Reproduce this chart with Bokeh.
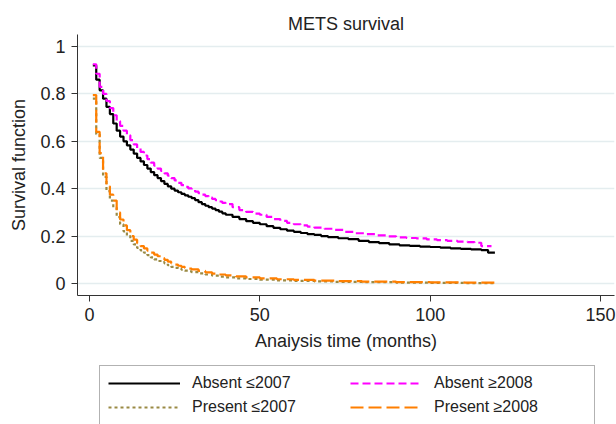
from bokeh.plotting import figure
from bokeh.models import Range1d, FixedTicker, Legend, LegendItem
from bokeh.layouts import column
from bokeh.embed import file_html
from bokeh.resources import INLINE

# ---- data ----
t_abs_le2007 = [1, 2, 3, 4, 5, 6, 7, 8, 9, 10, 11, 12, 13, 14, 15, 16, 17, 18, 19, 20,
                21, 22, 23, 24, 25, 26, 27, 28, 29, 30, 31, 32, 33, 34, 35, 36, 37, 38,
                39, 40, 42, 44, 46, 48, 50, 52, 54, 56, 58, 60, 62, 64, 66, 68, 70, 73,
                76, 79, 82, 85, 88, 91, 94, 97, 100, 103, 106, 109, 112, 115, 117, 119]
s_abs_le2007 = [0.92, 0.86, 0.815, 0.78, 0.745, 0.715, 0.675, 0.645, 0.62, 0.60, 0.583,
                0.565, 0.548, 0.53, 0.515, 0.50, 0.485, 0.47, 0.457, 0.445, 0.432, 0.42,
                0.41, 0.40, 0.392, 0.385, 0.378, 0.372, 0.366, 0.36, 0.352, 0.343, 0.335,
                0.328, 0.322, 0.316, 0.31, 0.303, 0.296, 0.29, 0.281, 0.272, 0.263, 0.256,
                0.25, 0.242, 0.235, 0.229, 0.223, 0.218, 0.213, 0.208, 0.205, 0.20, 0.196,
                0.191, 0.187, 0.18, 0.175, 0.17, 0.165, 0.161, 0.159, 0.156, 0.154, 0.151,
                0.148, 0.146, 0.144, 0.141, 0.13, 0.13]

t_abs_ge2008 = [1, 2, 3, 4, 5, 6, 7, 8, 9, 10, 11, 12, 13, 14, 15, 16, 17, 18, 19, 20,
                21, 22, 23, 24, 25, 26, 27, 28, 29, 30, 31, 32, 33, 34, 35, 36, 37, 38,
                39, 40, 42, 44, 46, 48, 50, 52, 54, 56, 58, 60, 62, 64, 66, 69, 72, 75,
                78, 81, 84, 87, 90, 93, 96, 99, 102, 105, 108, 111, 113, 115, 118]
s_abs_ge2008 = [0.925, 0.885, 0.83, 0.80, 0.77, 0.74, 0.71, 0.685, 0.665, 0.645, 0.625,
                0.605, 0.587, 0.57, 0.555, 0.54, 0.525, 0.51, 0.497, 0.485, 0.475, 0.465,
                0.455, 0.445, 0.435, 0.425, 0.415, 0.408, 0.401, 0.395, 0.388, 0.381,
                0.375, 0.369, 0.363, 0.357, 0.352, 0.346, 0.34, 0.335, 0.322, 0.31, 0.302,
                0.295, 0.29, 0.281, 0.272, 0.264, 0.256, 0.25, 0.245, 0.24, 0.236, 0.231,
                0.226, 0.218, 0.212, 0.208, 0.203, 0.199, 0.195, 0.192, 0.19, 0.186,
                0.183, 0.18, 0.177, 0.175, 0.172, 0.158, 0.158]

t_pre_le2007 = [1, 2, 3, 4, 5, 6, 7, 8, 9, 10, 11, 12, 13, 14, 15, 16, 17, 18, 19, 20,
                21, 22, 23, 24, 25, 26, 27, 28, 29, 30, 32, 34, 36, 38, 40, 43, 46, 50,
                55, 60, 66, 72, 80, 90, 100, 110, 119]
s_pre_le2007 = [0.78, 0.63, 0.53, 0.45, 0.39, 0.35, 0.32, 0.28, 0.25, 0.22, 0.20, 0.18,
                0.165, 0.15, 0.14, 0.13, 0.12, 0.11, 0.102, 0.095, 0.09, 0.085, 0.077,
                0.07, 0.066, 0.062, 0.058, 0.054, 0.051, 0.048, 0.043, 0.038, 0.033,
                0.029, 0.026, 0.022, 0.019, 0.016, 0.013, 0.011, 0.009, 0.007, 0.006,
                0.004, 0.003, 0.002, 0.002]

t_pre_ge2008 = [1, 2, 3, 4, 5, 6, 7, 8, 9, 10, 11, 12, 13, 14, 15, 16, 17, 18, 19, 20,
                21, 22, 23, 24, 25, 26, 27, 28, 29, 30, 32, 34, 36, 38, 40, 43, 46, 50,
                55, 60, 66, 72, 80, 90, 100, 110, 119]
s_pre_ge2008 = [0.795, 0.64, 0.55, 0.465, 0.41, 0.375, 0.35, 0.30, 0.27, 0.245, 0.225,
                0.20, 0.185, 0.17, 0.158, 0.148, 0.139, 0.13, 0.122, 0.115, 0.107, 0.10,
                0.092, 0.085, 0.08, 0.075, 0.07, 0.066, 0.063, 0.06, 0.053, 0.047, 0.042,
                0.038, 0.034, 0.03, 0.026, 0.022, 0.018, 0.015, 0.012, 0.01, 0.008,
                0.006, 0.005, 0.004, 0.004]

x_ticks = [0, 50, 100, 150]
y_ticks = [0, 0.2, 0.4, 0.6, 0.8, 1]
y_tick_labels = ["0", "0.2", "0.4", "0.6", "0.8", "1"]

title_text = "METS survival"
x_label = "Anaiysis time (months)"
y_label = "Survival function"
labels = ["Absent \u22642007", "Absent \u22652008", "Present \u22642007", "Present \u22652008"]

FONT = "Liberation Sans"
styles = [dict(line_color="black", line_width=2.2),
          dict(line_color="#FF00FF", line_width=2.2, line_dash="8 4"),
          dict(line_color="#9A8A44", line_width=2.2, line_dash="3 3"),
          dict(line_color="#FF7F00", line_width=2.2, line_dash="13 5")]
series = [(t_abs_le2007, s_abs_le2007), (t_abs_ge2008, s_abs_ge2008),
          (t_pre_le2007, s_pre_le2007), (t_pre_ge2008, s_pre_ge2008)]

# ---- main plot ----
p = figure(width=616, height=365, output_backend="svg", toolbar_location=None,
           x_range=Range1d(-3.5, 154.1), y_range=Range1d(-0.0506, 1.0506),
           min_border_left=77, min_border_right=2, min_border_top=34,
           min_border_bottom=70, title=title_text)
p.outline_line_color = None
p.background_fill_color = "white"
p.border_fill_color = "white"

p.title.align = "center"
p.title.text_font = FONT
p.title.text_font_size = "18px"
p.title.text_font_style = "normal"
p.title.text_color = "#222222"
p.title.standoff = 1

for ax in (p.xaxis[0], p.yaxis[0]):
    ax.axis_line_color = "#333333"
    ax.major_tick_line_color = "#333333"
    ax.major_tick_out = 6
    ax.major_tick_in = 0
    ax.minor_tick_out = 0
    ax.minor_tick_in = 0
    ax.major_label_text_font = FONT
    ax.major_label_text_font_size = "18px"
    ax.major_label_text_color = "#222222"
    ax.axis_label_text_font = FONT
    ax.axis_label_text_font_size = "18px"
    ax.axis_label_text_font_style = "normal"
    ax.axis_label_text_color = "#222222"

p.xaxis[0].ticker = FixedTicker(ticks=x_ticks)
p.yaxis[0].ticker = FixedTicker(ticks=y_ticks)
p.yaxis[0].major_label_overrides = {v: s for v, s in zip(y_ticks, y_tick_labels)}
p.yaxis[0].major_label_orientation = "horizontal"
p.xaxis[0].axis_label = x_label
p.yaxis[0].axis_label = y_label
p.xaxis[0].major_label_standoff = 6
p.yaxis[0].major_label_standoff = 6
p.xaxis[0].axis_label_standoff = 7
p.yaxis[0].axis_label_standoff = 8

p.xgrid.grid_line_color = None
p.ygrid.grid_line_color = "#E4EDEF"
p.ygrid.grid_line_width = 1.5

for (tx, sy), st in zip(series, styles):
    p.step(tx, sy, mode="after", **st)

# ---- legend strip below ----
q = figure(width=616, height=59, output_backend="svg", toolbar_location=None,
           x_axis_location=None, y_axis_location=None,
           x_range=Range1d(0, 1), y_range=Range1d(0, 1),
           min_border_left=0, min_border_right=0, min_border_top=0, min_border_bottom=0)
q.outline_line_color = None
q.xgrid.grid_line_color = None
q.ygrid.grid_line_color = None
q.background_fill_color = "white"
q.border_fill_color = "white"

proxies = []
for (tx, sy), st in zip(series, styles):
    proxies.append(q.step(tx, sy, mode="after", visible=False, **st))

order = [0, 2, 1, 3]   # filled column by column -> rows: Absent..., Present...
legend = Legend(items=[LegendItem(label=labels[i], renderers=[proxies[i]]) for i in order],
                ncols=2, location=(22, -1), orientation="vertical")
legend.glyph_width = 72
legend.glyph_height = 18
legend.label_standoff = 12
legend.label_width = 152
legend.label_height = 18
legend.spacing = 6
legend.padding = 8
legend.margin = 0
legend.label_text_font = FONT
legend.label_text_font_size = "16px"
legend.label_text_color = "#222222"
legend.border_line_color = "#666666"
legend.border_line_width = 1
legend.background_fill_color = "white"
legend.background_fill_alpha = 1
q.add_layout(legend, "center")

layout = column(p, q, spacing=0)
open("out.html", "w").write(file_html(layout, INLINE))
